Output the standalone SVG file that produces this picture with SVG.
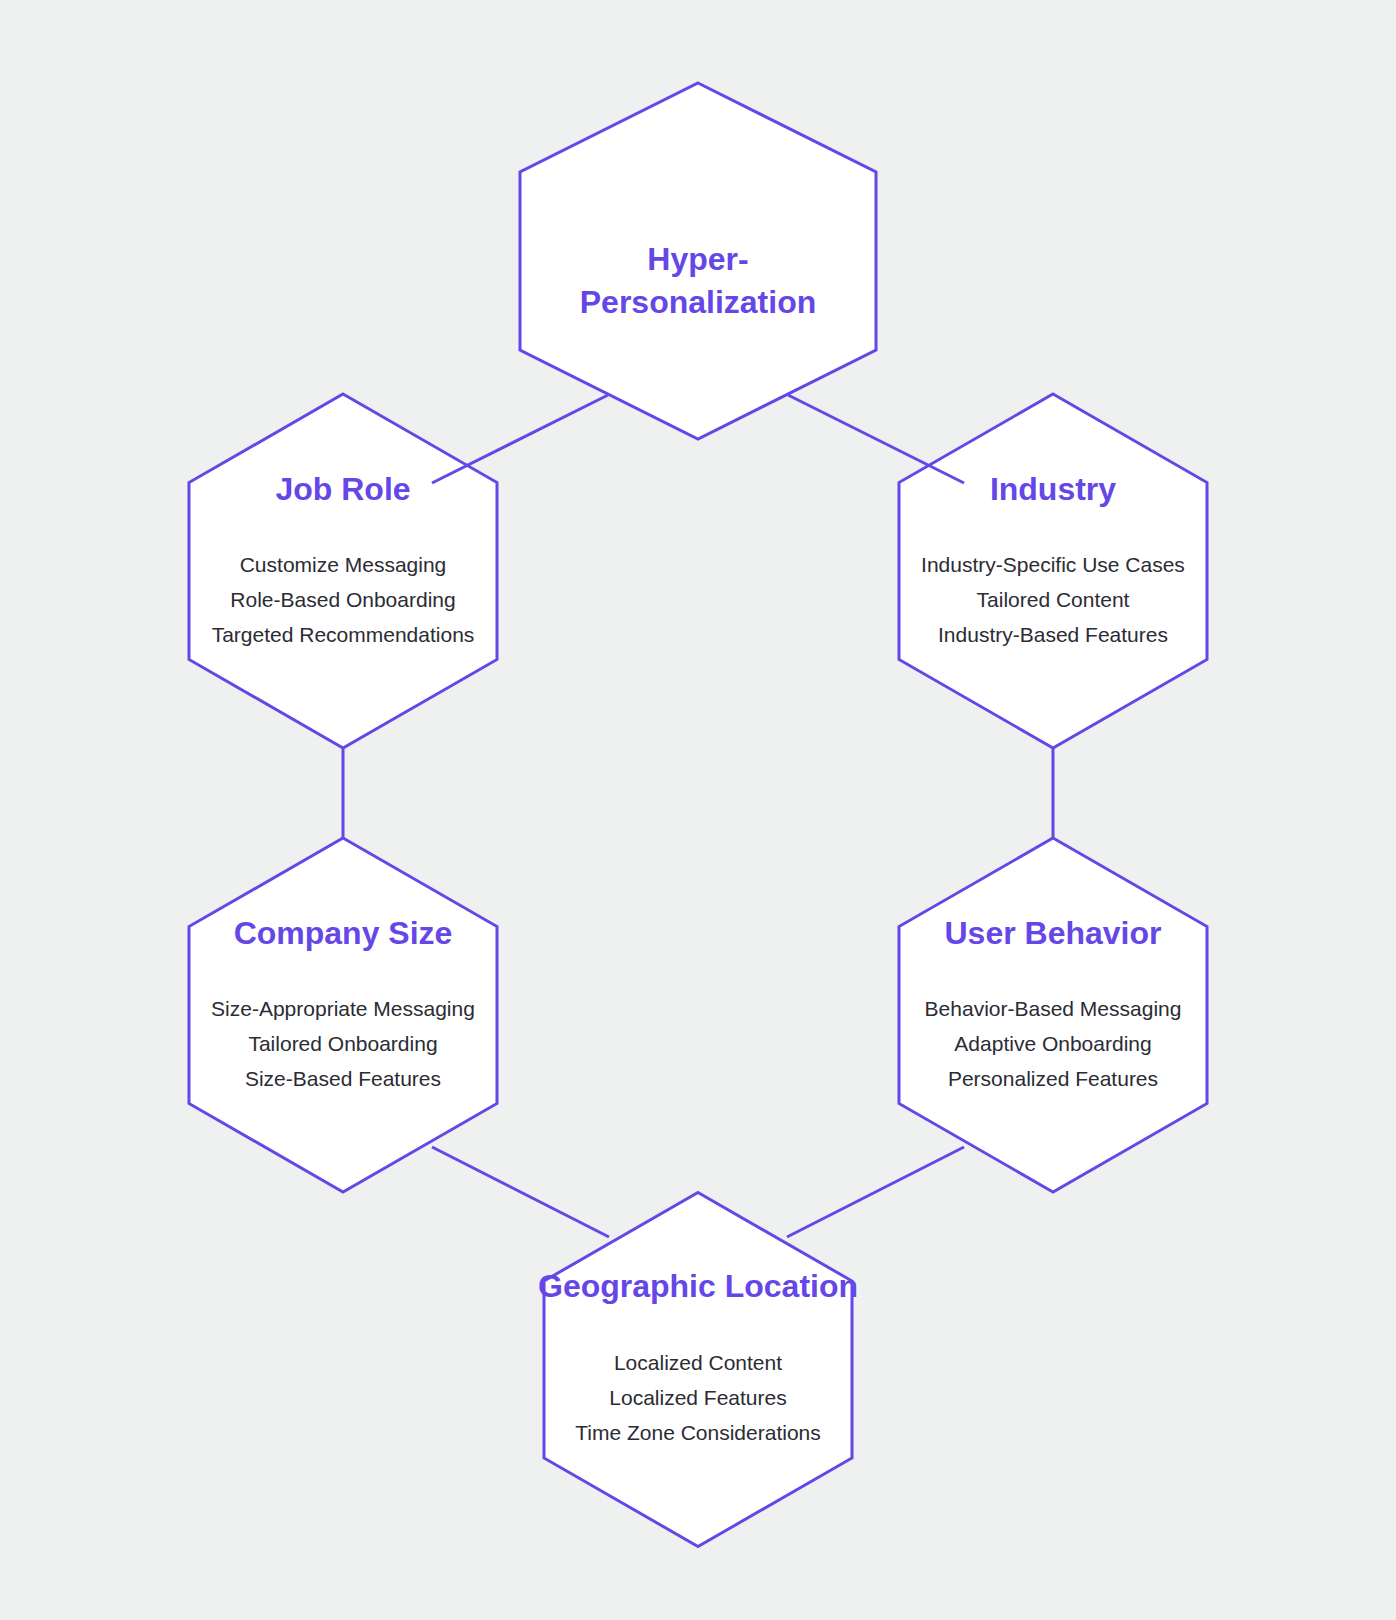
<svg xmlns="http://www.w3.org/2000/svg" xmlns:xlink="http://www.w3.org/1999/xlink" width="1396" height="1620" viewBox="0 0 1396 1620">
<style>
.hex{fill:#ffffff;stroke:#6547e8;stroke-width:3;stroke-linejoin:miter}
.link{stroke:#6547e8;stroke-width:3;fill:none}
.title{font-family:"Liberation Sans",Arial,Helvetica,sans-serif;font-weight:bold;font-size:32px;fill:#6547e8;text-anchor:middle}
.body{font-family:"Liberation Sans",Arial,Helvetica,sans-serif;font-size:21px;fill:#2b2c34;text-anchor:middle}
</style>
<defs>
<polygon id="hexL" points="0,-178 178,-89 178,89 0,178 -178,89 -178,-89"/>
<polygon id="hexS" points="0,-177 154,-88.5 154,88.5 0,177 -154,88.5 -154,-88.5"/>
</defs>
<rect x="0" y="0" width="1396" height="1620" fill="#eff0f0"/>
<g id="node-hyper">
<use href="#hexL" class="hex" transform="translate(698,261)"/>
<text class="title" x="698" y="270">Hyper-</text>
<text class="title" x="698" y="313">Personalization</text>
</g>
<g id="node-jobrole">
<use href="#hexS" class="hex" transform="translate(343,571)"/>
<text class="title" x="343" y="500">Job Role</text>
<text class="body" x="343" y="572">Customize Messaging</text>
<text class="body" x="343" y="607">Role-Based Onboarding</text>
<text class="body" x="343" y="642">Targeted Recommendations</text>
</g>
<g id="node-industry">
<use href="#hexS" class="hex" transform="translate(1053,571)"/>
<text class="title" x="1053" y="500">Industry</text>
<text class="body" x="1053" y="572">Industry-Specific Use Cases</text>
<text class="body" x="1053" y="607">Tailored Content</text>
<text class="body" x="1053" y="642">Industry-Based Features</text>
</g>
<g id="node-companysize">
<use href="#hexS" class="hex" transform="translate(343,1015)"/>
<text class="title" x="343" y="944">Company Size</text>
<text class="body" x="343" y="1016">Size-Appropriate Messaging</text>
<text class="body" x="343" y="1051">Tailored Onboarding</text>
<text class="body" x="343" y="1086">Size-Based Features</text>
</g>
<g id="node-userbehavior">
<use href="#hexS" class="hex" transform="translate(1053,1015)"/>
<text class="title" x="1053" y="944">User Behavior</text>
<text class="body" x="1053" y="1016">Behavior-Based Messaging</text>
<text class="body" x="1053" y="1051">Adaptive Onboarding</text>
<text class="body" x="1053" y="1086">Personalized Features</text>
</g>
<g id="node-geo">
<use href="#hexS" class="hex" transform="translate(698,1369.5)"/>
<text class="title" x="698" y="1297">Geographic Location</text>
<text class="body" x="698" y="1370">Localized Content</text>
<text class="body" x="698" y="1405">Localized Features</text>
<text class="body" x="698" y="1440">Time Zone Considerations</text>
</g>
<g id="connectors">
<line class="link" x1="608" y1="395" x2="432" y2="483"/>
<line class="link" x1="788" y1="395" x2="964" y2="483"/>
<line class="link" x1="343" y1="748" x2="343" y2="838"/>
<line class="link" x1="1053" y1="748" x2="1053" y2="838"/>
<line class="link" x1="432" y1="1147" x2="609" y2="1237"/>
<line class="link" x1="964" y1="1147" x2="787" y2="1237"/>
</g>
</svg>
